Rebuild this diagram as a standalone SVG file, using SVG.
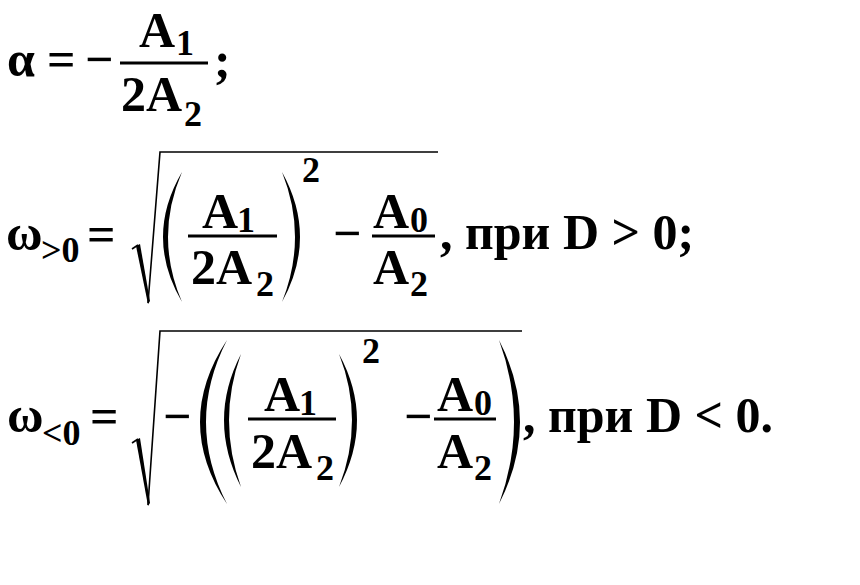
<svg xmlns="http://www.w3.org/2000/svg" width="860" height="585" viewBox="0 0 860 585" font-family="Liberation Serif, Times New Roman, Tinos, serif" font-weight="bold">
<rect width="860" height="585" fill="#fff"/>
<g id="eq1" font-family="Liberation Serif, Times New Roman, Tinos, serif" font-weight="bold">
<text style="font-family:'Liberation Serif','Times New Roman',serif;font-weight:bold" font-family="Liberation Serif" font-size="50" x="7" y="76">α</text>
<text style="font-family:'Liberation Serif','Times New Roman',serif;font-weight:bold" font-family="Liberation Serif" font-size="50" x="47" y="76">=</text>
<text style="font-family:'Liberation Serif','Times New Roman',serif;font-weight:bold" font-family="Liberation Serif" font-size="50" x="85" y="76">−</text>
<line stroke="#000" stroke-width="3" x1="120" y1="63" x2="208" y2="63"/>
<text style="font-family:'Liberation Serif','Times New Roman',serif;font-weight:bold" font-family="Liberation Serif" font-size="50" x="139" y="47">A</text>
<text style="font-family:'Liberation Serif','Times New Roman',serif;font-weight:bold" font-family="Liberation Serif" font-size="36" x="176" y="55">1</text>
<text style="font-family:'Liberation Serif','Times New Roman',serif;font-weight:bold" font-family="Liberation Serif" font-size="50" x="121" y="111">2A</text>
<text style="font-family:'Liberation Serif','Times New Roman',serif;font-weight:bold" font-family="Liberation Serif" font-size="36" x="184" y="126">2</text>
<text style="font-family:'Liberation Serif','Times New Roman',serif;font-weight:bold" font-family="Liberation Serif" font-size="50" x="214" y="77">;</text>
</g>
<g id="eq2" font-family="Liberation Serif, Times New Roman, Tinos, serif" font-weight="bold">
<text style="font-family:'Liberation Serif','Times New Roman',serif;font-weight:bold" font-family="Liberation Serif" font-size="50" x="6" y="250">ω</text>
<text style="font-family:'Liberation Serif','Times New Roman',serif;font-weight:bold" font-family="Liberation Serif" font-size="36" x="41" y="262">&gt;0</text>
<text style="font-family:'Liberation Serif','Times New Roman',serif;font-weight:bold" font-family="Liberation Serif" font-size="50" x="87" y="251">=</text>
<path stroke="#000" stroke-width="1.6" fill="none" d="M132,249 L138,245"/>
<path fill="#000" d="M136,246 L140,244 L150,301 L148,304 Z"/>
<path stroke="#000" stroke-width="1.6" fill="none" d="M148,303 L160,152 L438,152"/>
<path fill="#000" d="M182,172 Q144,237 182,302 Q154,237 182,172 Z"/>
<line stroke="#000" stroke-width="3" x1="188" y1="236" x2="277" y2="236"/>
<text style="font-family:'Liberation Serif','Times New Roman',serif;font-weight:bold" font-family="Liberation Serif" font-size="50" x="202" y="228">A</text>
<text style="font-family:'Liberation Serif','Times New Roman',serif;font-weight:bold" font-family="Liberation Serif" font-size="36" x="237" y="232">1</text>
<text style="font-family:'Liberation Serif','Times New Roman',serif;font-weight:bold" font-family="Liberation Serif" font-size="50" x="191" y="284">2A</text>
<text style="font-family:'Liberation Serif','Times New Roman',serif;font-weight:bold" font-family="Liberation Serif" font-size="36" x="256" y="296">2</text>
<path fill="#000" d="M282,172 Q318,237 282,302 Q308,237 282,172 Z"/>
<text style="font-family:'Liberation Serif','Times New Roman',serif;font-weight:bold" font-family="Liberation Serif" font-size="36" x="302" y="182">2</text>
<text style="font-family:'Liberation Serif','Times New Roman',serif;font-weight:bold" font-family="Liberation Serif" font-size="50" x="333" y="250">−</text>
<line stroke="#000" stroke-width="3" x1="372" y1="236" x2="435" y2="236"/>
<text style="font-family:'Liberation Serif','Times New Roman',serif;font-weight:bold" font-family="Liberation Serif" font-size="50" x="373" y="228">A</text>
<text style="font-family:'Liberation Serif','Times New Roman',serif;font-weight:bold" font-family="Liberation Serif" font-size="36" x="410" y="232">0</text>
<text style="font-family:'Liberation Serif','Times New Roman',serif;font-weight:bold" font-family="Liberation Serif" font-size="50" x="373" y="284">A</text>
<text style="font-family:'Liberation Serif','Times New Roman',serif;font-weight:bold" font-family="Liberation Serif" font-size="36" x="410" y="296">2</text>
<text style="font-family:'Liberation Serif','Times New Roman',serif;font-weight:bold" font-family="Liberation Serif" font-size="50" x="440" y="249">, при D &gt; 0;</text>
</g>
<g id="eq3" font-family="Liberation Serif, Times New Roman, Tinos, serif" font-weight="bold">
<text style="font-family:'Liberation Serif','Times New Roman',serif;font-weight:bold" font-family="Liberation Serif" font-size="50" x="7" y="432">ω</text>
<text style="font-family:'Liberation Serif','Times New Roman',serif;font-weight:bold" font-family="Liberation Serif" font-size="36" x="42" y="445">&lt;0</text>
<text style="font-family:'Liberation Serif','Times New Roman',serif;font-weight:bold" font-family="Liberation Serif" font-size="50" x="90" y="433">=</text>
<path stroke="#000" stroke-width="1.6" fill="none" d="M132,443 L138,439"/>
<path fill="#000" d="M136,440 L140,438 L150,503 L148,506 Z"/>
<path stroke="#000" stroke-width="1.6" fill="none" d="M148,505 L160,331 L522,331"/>
<text style="font-family:'Liberation Serif','Times New Roman',serif;font-weight:bold" font-family="Liberation Serif" font-size="50" x="163" y="433">−</text>
<path fill="#000" d="M227,340 Q173,422 227,504 Q185,422 227,340 Z"/>
<path fill="#000" d="M241,354 Q207,420 241,487 Q217,420 241,354 Z"/>
<line stroke="#000" stroke-width="3" x1="248" y1="419" x2="336" y2="419"/>
<text style="font-family:'Liberation Serif','Times New Roman',serif;font-weight:bold" font-family="Liberation Serif" font-size="50" x="264" y="411">A</text>
<text style="font-family:'Liberation Serif','Times New Roman',serif;font-weight:bold" font-family="Liberation Serif" font-size="36" x="299" y="415">1</text>
<text style="font-family:'Liberation Serif','Times New Roman',serif;font-weight:bold" font-family="Liberation Serif" font-size="50" x="251" y="468">2A</text>
<text style="font-family:'Liberation Serif','Times New Roman',serif;font-weight:bold" font-family="Liberation Serif" font-size="36" x="316" y="480">2</text>
<path fill="#000" d="M339,354 Q375,420 339,487 Q365,420 339,354 Z"/>
<text style="font-family:'Liberation Serif','Times New Roman',serif;font-weight:bold" font-family="Liberation Serif" font-size="36" x="362" y="363">2</text>
<text style="font-family:'Liberation Serif','Times New Roman',serif;font-weight:bold" font-family="Liberation Serif" font-size="50" x="404" y="433">−</text>
<line stroke="#000" stroke-width="3" x1="434" y1="419" x2="496" y2="419"/>
<text style="font-family:'Liberation Serif','Times New Roman',serif;font-weight:bold" font-family="Liberation Serif" font-size="50" x="437" y="411">A</text>
<text style="font-family:'Liberation Serif','Times New Roman',serif;font-weight:bold" font-family="Liberation Serif" font-size="36" x="474" y="415">0</text>
<text style="font-family:'Liberation Serif','Times New Roman',serif;font-weight:bold" font-family="Liberation Serif" font-size="50" x="437" y="468">A</text>
<text style="font-family:'Liberation Serif','Times New Roman',serif;font-weight:bold" font-family="Liberation Serif" font-size="36" x="474" y="480">2</text>
<path fill="#000" d="M499,340 Q541,422 499,504 Q529,422 499,340 Z"/>
<text style="font-family:'Liberation Serif','Times New Roman',serif;font-weight:bold" font-family="Liberation Serif" font-size="50" x="523" y="432">, при D &lt; 0.</text>
</g>
</svg>
